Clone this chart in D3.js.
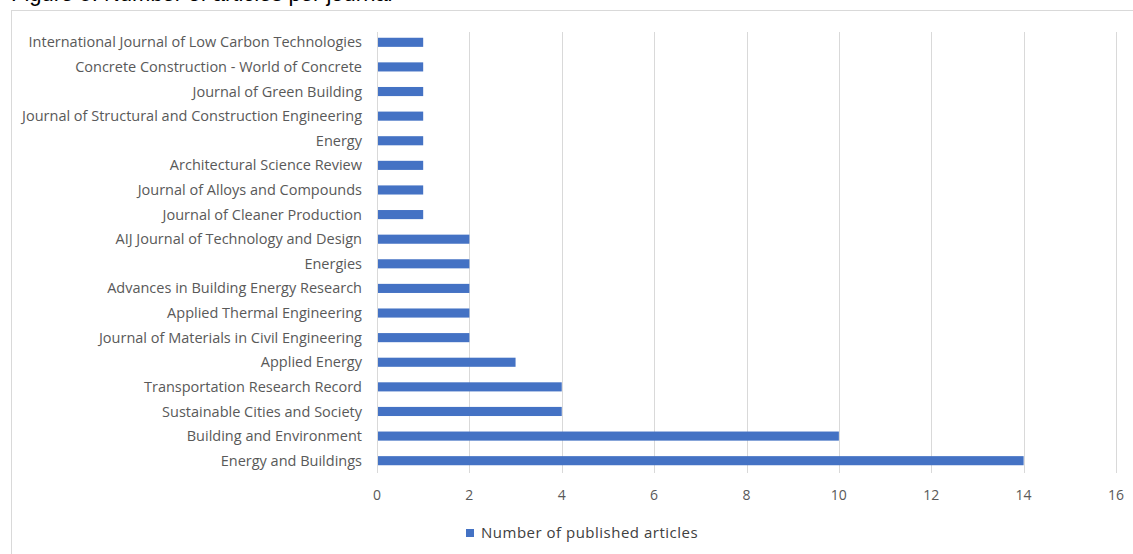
<!DOCTYPE html>
<html>
<head>
<meta charset="utf-8">
<script src="https://cdn.jsdelivr.net/npm/d3@7"></script>
<style>
  body { margin: 0; background: #fff; }
  svg { display: block; }
</style>
</head>
<body>
<div id="chart"></div>
<script>
'use strict';

// Journals, top to bottom as in the figure
var journals = [
  'International Journal of Low Carbon Technologies',
  'Concrete Construction - World of Concrete',
  'Journal of Green Building',
  'Journal of Structural and Construction Engineering',
  'Energy',
  'Architectural Science Review',
  'Journal of Alloys and Compounds',
  'Journal of Cleaner Production',
  'AIJ Journal of Technology and Design',
  'Energies',
  'Advances in Building Energy Research',
  'Applied Thermal Engineering',
  'Journal of Materials in Civil Engineering',
  'Applied Energy',
  'Transportation Research Record',
  'Sustainable Cities and Society',
  'Building and Environment',
  'Energy and Buildings'
];
var articles = [1, 1, 1, 1, 1, 1, 1, 1, 2, 2, 2, 2, 2, 3, 4, 4, 10, 14];
var xTicks = [0, 2, 4, 6, 8, 10, 12, 14, 16];
var seriesName = 'Number of published articles';
var caption = 'Figure 5. Number of articles per journal';

var W = 1133, H = 554;
var margin = { left: 377, right: 17, top: 30, bot: 81 };

var svg = d3.select('#chart').append('svg')
  .attr('width', W)
  .attr('height', H);

// caption, mostly cropped off the top (as in the source image)
svg.append('text')
  .attr('x', 11)
  .attr('y', 0.5)
  .attr('font-family', 'Liberation Sans, Arial, sans-serif')
  .attr('font-size', 22)
  .attr('fill', '#000')
  .text(caption);

// chart frame
svg.append('rect')
  .attr('x', 11.5)
  .attr('y', 10.5)
  .attr('width', W + 20)
  .attr('height', H + 20)
  .attr('fill', 'none')
  .attr('stroke', '#d9d9d9');

var xScale = d3.scaleLinear()
  .domain([0, 16])
  .range([margin.left, W - margin.right]);

var yScale = d3.scaleBand()
  .domain(journals)
  .range([margin.top, H - margin.bot])
  .paddingInner(0.63)
  .paddingOuter(0.315);

var plotBottom = H - margin.bot;

// grid
svg.append('g').selectAll('line')
  .data(xTicks.slice(1))
  .enter().append('line')
  .attr('x1', function(d) { return Math.round(xScale(d)) + 0.5; })
  .attr('x2', function(d) { return Math.round(xScale(d)) + 0.5; })
  .attr('y1', margin.top + 2)
  .attr('y2', plotBottom)
  .attr('stroke', '#d9d9d9');

// bars
svg.append('g').selectAll('rect')
  .data(journals)
  .enter().append('rect')
  .attr('x', xScale(0))
  .attr('y', function(d) { return yScale(d); })
  .attr('width', function(d, i) { return xScale(articles[i]) - xScale(0); })
  .attr('height', yScale.bandwidth())
  .attr('fill', '#4472c4');

// vertical axis line
svg.append('line')
  .attr('x1', Math.round(xScale(0)) + 0.5)
  .attr('x2', Math.round(xScale(0)) + 0.5)
  .attr('y1', margin.top + 2)
  .attr('y2', plotBottom)
  .attr('stroke', '#d9d9d9');

var labelFont = 'Open Sans, Liberation Sans, sans-serif';

// category labels
svg.append('g').selectAll('text')
  .data(journals)
  .enter().append('text')
  .attr('x', xScale(0) - 15)
  .attr('y', function(d) { return yScale(d) + yScale.bandwidth() / 2; })
  .attr('dy', '0.35em')
  .attr('text-anchor', 'end')
  .attr('font-family', labelFont)
  .attr('font-size', 14.5)
  .attr('fill', '#595959')
  .text(function(d) { return d; });

// x tick labels
svg.append('g').selectAll('text')
  .data(xTicks)
  .enter().append('text')
  .attr('x', function(d) { return xScale(d); })
  .attr('y', 500)
  .attr('text-anchor', 'middle')
  .attr('font-family', labelFont)
  .attr('font-size', 14)
  .attr('fill', '#595959')
  .text(function(d) { return d; });

// legend
var legend = svg.append('g');
legend.append('rect')
  .attr('x', 466)
  .attr('y', 529)
  .attr('width', 8)
  .attr('height', 8)
  .attr('fill', '#4472c4');
legend.append('text')
  .attr('x', 481)
  .attr('y', 538)
  .attr('font-family', labelFont)
  .attr('font-size', 15)
  .attr('letter-spacing', 0.5)
  .attr('fill', '#404040')
  .text(seriesName);
</script>
</body>
</html>
